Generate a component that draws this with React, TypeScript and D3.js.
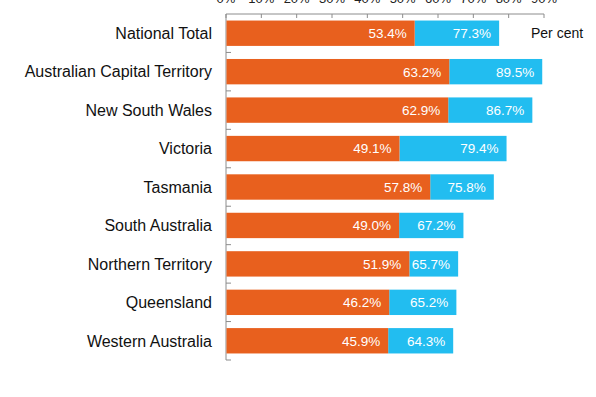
import * as d3 from "d3";

const WIDTH = 596;
const HEIGHT = 397;

const REGIONS = [
  "National Total",
  "Australian Capital Territory",
  "New South Wales",
  "Victoria",
  "Tasmania",
  "South Australia",
  "Northern Territory",
  "Queensland",
  "Western Australia",
];
const FIRST = [53.4, 63.2, 62.9, 49.1, 57.8, 49.0, 51.9, 46.2, 45.9];
const SECOND = [77.3, 89.5, 86.7, 79.4, 75.8, 67.2, 65.7, 65.2, 64.3];
const TICKS = [0, 10, 20, 30, 40, 50, 60, 70, 80, 90];

const ORANGE = "#e8601e";
const BLUE = "#22bdf0";
const AXIS = "#8c8c8c";
const FONT = "'Liberation Sans', Arial, Helvetica, sans-serif";

export default function App() {
  const x = d3.scaleLinear().domain([0, 90]).range([226, 544]);
  const y = d3
    .scaleBand<string>()
    .domain(REGIONS)
    .range([14, 360])
    .paddingInner(0.34)
    .paddingOuter(0.17);
  const step = y.step();
  const boundaries = d3.range(REGIONS.length + 1).map((i) => 14 + i * step);

  return (
    <svg
      width={WIDTH}
      height={HEIGHT}
      style={{ position: "absolute", left: 0, top: 0, background: "#fff" }}
      fontFamily={FONT}
    >
      {/* top axis, labels mostly cropped off */}
      <line x1={x(0)} x2={x(90)} y1={14} y2={14} stroke={AXIS} strokeWidth={1} />
      {TICKS.map((t) => (
        <g key={t}>
          <line x1={x(t)} x2={x(t)} y1={14} y2={18} stroke={AXIS} />
          <text x={x(t)} y={2.5} textAnchor="middle" fontSize={13} fill="#222">
            {t}%
          </text>
        </g>
      ))}
      {/* left axis */}
      <line x1={x(0)} x2={x(0)} y1={14} y2={360} stroke={AXIS} />
      {boundaries.slice(1).map((b, i) => (
        <line key={i} x1={x(0)} x2={x(0) + 5} y1={b} y2={b} stroke={AXIS} />
      ))}

      {REGIONS.map((r, i) => {
        const y0 = y(r) ?? 0;
        const h = y.bandwidth();
        const cy = y0 + h / 2;
        return (
          <g key={r}>
            <rect
              x={x(FIRST[i])}
              y={y0}
              width={x(SECOND[i]) - x(FIRST[i])}
              height={h}
              fill={BLUE}
            />
            <rect x={x(0) + 0.5} y={y0} width={x(FIRST[i]) - x(0) - 0.5} height={h} fill={ORANGE} />
            <text
              x={x(FIRST[i]) - 8}
              y={cy}
              dy="0.36em"
              textAnchor="end"
              fontSize={13.5}
              fill="#fff"
            >
              {FIRST[i].toFixed(1)}%
            </text>
            <text
              x={x(SECOND[i]) - 8}
              y={cy}
              dy="0.36em"
              textAnchor="end"
              fontSize={13.5}
              fill="#fff"
            >
              {SECOND[i].toFixed(1)}%
            </text>
            <text
              x={212}
              y={cy}
              dy="0.36em"
              textAnchor="end"
              fontSize={16}
              fill="#111"
            >
              {r}
            </text>
          </g>
        );
      })}
      <text x={531} y={y(REGIONS[0])! + y.bandwidth() / 2} dy="0.36em" fontSize={14} fill="#111">
        Per cent
      </text>
    </svg>
  );
}
